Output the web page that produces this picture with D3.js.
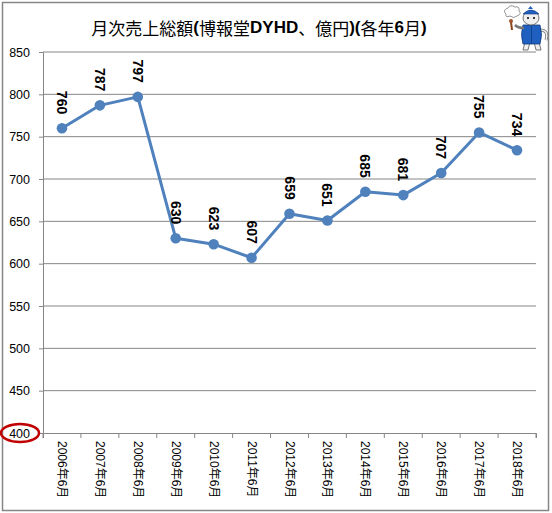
<!doctype html>
<html>
<head>
<meta charset="utf-8">
<title>月次売上総額(博報堂DYHD、億円)(各年6月)</title>
<script src="https://d3js.org/d3.v7.min.js"></script>
<style type="text/css">
	body { margin: 0; background: #fff; }
	.title { font-size: 17px; font-family: "Noto Sans CJK JP", sans-serif; }
	.title .lat { font-family: "Liberation Sans", Arial, sans-serif; font-weight: bold; }
	.ytick text { font-size: 12.5px; font-family: "Liberation Sans", Arial, sans-serif; }
	.xlab { font-size: 12px; font-family: "Liberation Sans", "Noto Sans CJK JP", sans-serif; }
	.val { font-size: 14px; font-weight: bold; font-family: "Liberation Sans", Arial, sans-serif; }
</style>
</head>
<body>
<script>
	var years = ["2006","2007","2008","2009","2010","2011","2012","2013","2014","2015","2016","2017","2018"];
	var sales = [760, 787, 797, 630, 623, 607, 659, 651, 685, 681, 707, 755, 734];
	var yTicks = [400, 450, 500, 550, 600, 650, 700, 750, 800, 850];

	var w = 552, h = 513;
	var plotL = 43, plotR = 536, plotT = 52, plotB = 433;
	var blue = "#4f81bd", grid = "#868686";

	var svg = d3.select("body").append("svg")
		.attr("width", w)
		.attr("height", h);

	// outer frame
	svg.append("rect")
		.attr("x", 2.5).attr("y", 2.5)
		.attr("width", 546).attr("height", 508)
		.attr("fill", "#fff")
		.attr("stroke", grid).attr("stroke-width", 1.5);

	var xScale = d3.scaleBand().domain(years).range([plotL, plotR]);
	var yScale = d3.scaleLinear().domain([400, 850]).range([plotB, plotT]);

	// gridlines + y axis
	var yAxis = d3.axisLeft(yScale).tickValues(yTicks).tickSize(4).tickPadding(9);
	var yg = svg.append("g")
		.attr("class", "ytick")
		.attr("transform", "translate(" + plotL + ",0)")
		.call(yAxis);
	yg.select(".domain").attr("stroke", grid);
	yg.selectAll(".tick line").attr("stroke", grid);
	yg.selectAll(".tick text").attr("fill", "#000");

	svg.append("g")
		.selectAll("line")
		.data(yTicks.slice(1))
		.enter()
		.append("line")
		.attr("x1", plotL).attr("x2", plotR)
		.attr("y1", function(d) { return yScale(d); })
		.attr("y2", function(d) { return yScale(d); })
		.attr("stroke", grid).attr("stroke-width", 1);

	// x axis
	var xAxis = d3.axisBottom(xScale).tickSize(5).tickFormat("");
	var xg = svg.append("g")
		.attr("transform", "translate(0," + plotB + ")")
		.call(xAxis);
	xg.select(".domain").attr("stroke", grid);
	// ticks at category boundaries (excel style)
	xg.selectAll(".tick").remove();
	xg.selectAll("line.bd")
		.data(years.concat(["end"]))
		.enter()
		.append("line")
		.attr("class", "bd")
		.attr("x1", function(d, i) { return plotL + i * xScale.bandwidth(); })
		.attr("x2", function(d, i) { return plotL + i * xScale.bandwidth(); })
		.attr("y1", 0).attr("y2", 5)
		.attr("stroke", grid);

	svg.append("g")
		.selectAll("text")
		.data(years)
		.enter()
		.append("text")
		.attr("class", "xlab")
		.attr("transform", function(d) {
			return "translate(" + (xScale(d) + xScale.bandwidth() / 2) + "," + (plotB + 8) + ") rotate(90)";
		})
		.attr("dominant-baseline", "central")
		.text(function(d) { return d + "年6月"; });

	// red ellipse around 400
	svg.append("ellipse")
		.attr("cx", 20).attr("cy", yScale(400))
		.attr("rx", 19).attr("ry", 9)
		.attr("fill", "none")
		.attr("stroke", "#c00000").attr("stroke-width", 2.5);

	// line
	var cx = function(d, i) { return xScale(years[i]) + xScale.bandwidth() / 2; };
	var line = d3.line()
		.x(cx)
		.y(function(d) { return yScale(d); });

	svg.append("path")
		.datum(sales)
		.attr("d", line)
		.attr("fill", "none")
		.attr("stroke", blue)
		.attr("stroke-width", 3)
		.attr("stroke-linejoin", "round");

	svg.append("g")
		.selectAll("circle")
		.data(sales)
		.enter()
		.append("circle")
		.attr("cx", cx)
		.attr("cy", function(d) { return yScale(d); })
		.attr("r", 5.3)
		.attr("fill", blue);

	// value labels
	svg.append("g")
		.selectAll("text")
		.data(sales)
		.enter()
		.append("text")
		.attr("class", "val")
		.attr("transform", function(d, i) {
			return "translate(" + cx(d, i) + "," + (yScale(d) - 14) + ") rotate(90)";
		})
		.attr("text-anchor", "end")
		.attr("dominant-baseline", "central")
		.text(function(d) { return d; });

	// title
	var title = svg.append("text")
		.attr("class", "title")
		.attr("x", 259).attr("y", 27)
		.attr("text-anchor", "middle")
		.attr("dominant-baseline", "central");
	var parts = [["月次売上総額", 0], ["(", 1], ["博報堂", 0], ["DYHD", 1], ["、億円", 0], [")(", 1], ["各年", 0], ["6", 1], ["月", 0], [")", 1]];
	parts.forEach(function(p) {
		title.append("tspan").attr("class", p[1] ? "lat" : null).text(p[0]);
	});

	// mascot (simple cat drawing)
	var cat = svg.append("g").attr("transform", "translate(502,4)");
	// smoke
	cat.append("path").attr("d", "M4,10 q-4,-4 2,-6 q2,-4 7,-1 q5,-1 4,4 q3,3 -2,5 q-3,3 -7,0 q-5,2 -4,-2z")
		.attr("fill", "#fff").attr("stroke", "#777").attr("stroke-width", 0.8);
	// tail
	cat.append("path").attr("d", "M38,26 q9,0 6,10").attr("fill", "none")
		.attr("stroke", "#777").attr("stroke-width", 3);
	cat.append("path").attr("d", "M38,26 q9,0 6,10").attr("fill", "none")
		.attr("stroke", "#eee").attr("stroke-width", 1.5);
	// legs
	cat.append("path").attr("d", "M23,38 l-2,8 l5,0 l2,-8 M32,38 l2,8 l5,0 l-2,-8")
		.attr("fill", "#eee").attr("stroke", "#555").attr("stroke-width", 0.8);
	// vest
	cat.append("path").attr("d", "M21,21 q-3,10 0,19 l17,0 q3,-9 0,-19z")
		.attr("fill", "#1f5fbf").attr("stroke", "#123c80").attr("stroke-width", 0.8);
	cat.append("line").attr("x1", 29.5).attr("y1", 22).attr("x2", 29.5).attr("y2", 40)
		.attr("stroke", "#123c80").attr("stroke-width", 0.8);
	// head
	cat.append("ellipse").attr("cx", 29).attr("cy", 14).attr("rx", 8).attr("ry", 7)
		.attr("fill", "#eee").attr("stroke", "#555").attr("stroke-width", 0.8);
	cat.append("path").attr("d", "M21,10 q8,-8 16,0z").attr("fill", "#1f5fbf").attr("stroke", "#123c80").attr("stroke-width", 0.6);
	cat.append("path").attr("d", "M26,5 l2.5,-3 l2.5,3z").attr("fill", "#1f5fbf");
	cat.append("circle").attr("cx", 26).attr("cy", 14).attr("r", 1).attr("fill", "#000");
	cat.append("circle").attr("cx", 32).attr("cy", 14).attr("r", 1).attr("fill", "#000");
	// arm + pipe
	cat.append("path").attr("d", "M22,24 q-6,0 -9,-3").attr("fill", "none").attr("stroke", "#777").attr("stroke-width", 2.5);
	cat.append("line").attr("x1", 9).attr("y1", 18).attr("x2", 10).attr("y2", 26)
		.attr("stroke", "#8b4513").attr("stroke-width", 2);
	cat.append("circle").attr("cx", 9).attr("cy", 17).attr("r", 2).attr("fill", "#a0522d");
</script>
</body>
</html>
